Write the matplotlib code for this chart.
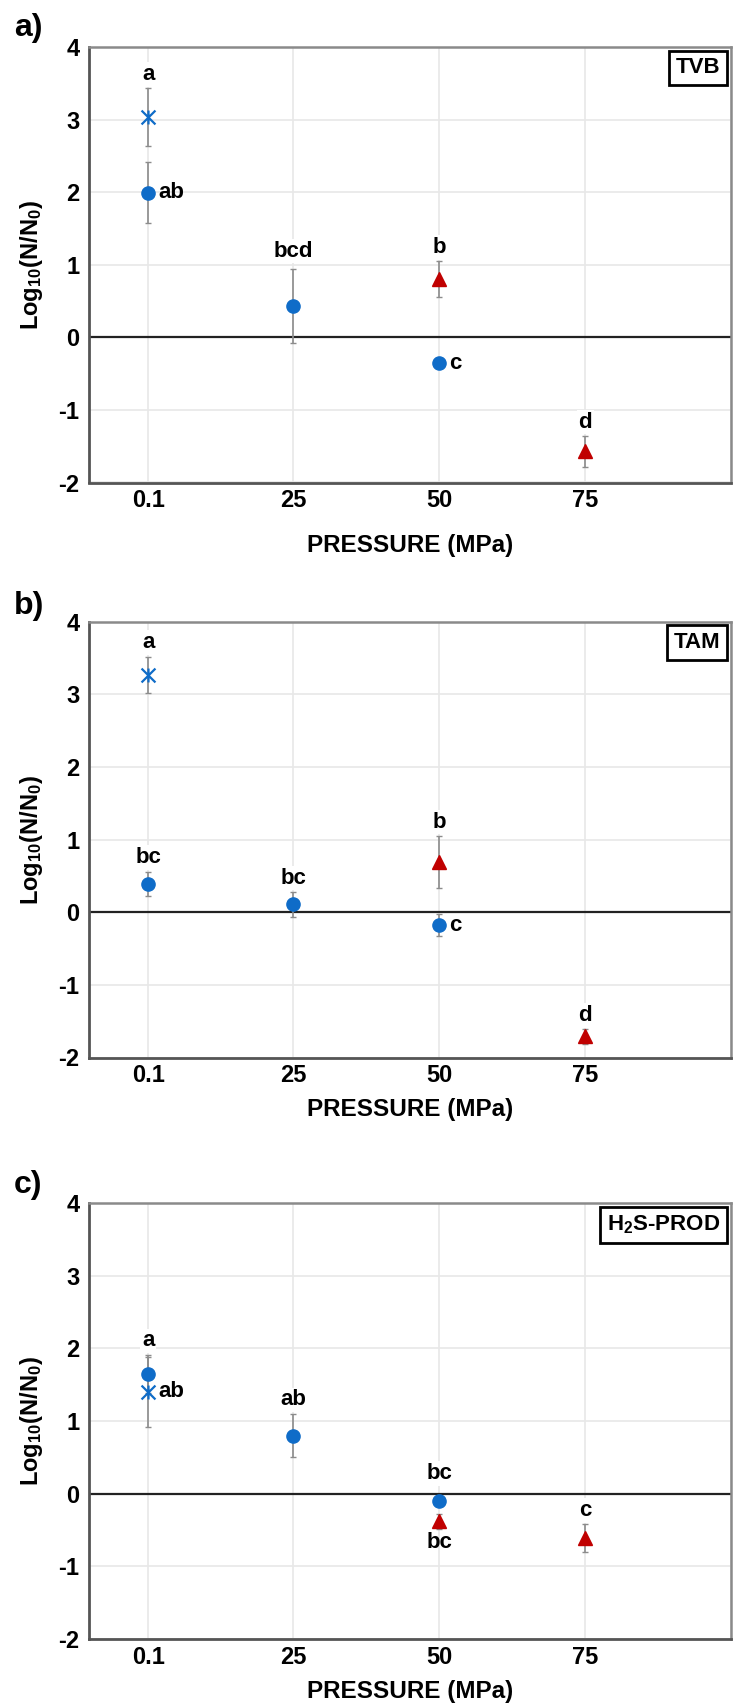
import matplotlib
matplotlib.use("Agg")
import matplotlib.pyplot as plt
from matplotlib import font_manager
from matplotlib.path import Path

plt.rcParams['font.family'] = ['Liberation Sans', 'DejaVu Sans']
plt.rcParams['font.weight'] = 'bold'
plt.rcParams['axes.unicode_minus'] = False
plt.rcParams['mathtext.fontset'] = 'custom'
plt.rcParams['mathtext.rm'] = 'Liberation Sans:bold'
plt.rcParams['mathtext.bf'] = 'Liberation Sans:bold'
plt.rcParams['mathtext.default'] = 'rm'

names = {f.name for f in font_manager.fontManager.ttflist}
if 'Liberation Sans Narrow' in names:
    xlab_font, xlab_size = 'Liberation Sans Narrow', 21
else:
    xlab_font, xlab_size = 'Liberation Sans', 17.5

# pressure levels (MPa)
pressure = [0.1, 25, 50, 75]
tick_labels = ['0.1', '25', '50', '75']

# a) TVB
tvb_star_x = [0.1]
tvb_star_y = [3.03]
tvb_star_err = [0.40]
tvb_circ_x = [0.1, 25, 50]
tvb_circ_y = [1.99, 0.43, -0.36]
tvb_circ_err = [0.42, 0.51, 0.03]
tvb_tri_x = [50, 75]
tvb_tri_y = [0.80, -1.57]
tvb_tri_err = [0.25, 0.21]
tvb_letters = [['a'], ['ab', 'bcd', 'c'], ['b', 'd']]
tvb_where = [['above'], ['right', 'high', 'right'], ['above', 'above']]

# b) TAM
tam_star_x = [0.1]
tam_star_y = [3.27]
tam_star_err = [0.25]
tam_circ_x = [0.1, 25, 50]
tam_circ_y = [0.39, 0.11, -0.18]
tam_circ_err = [0.17, 0.17, 0.15]
tam_tri_x = [50, 75]
tam_tri_y = [0.69, -1.71]
tam_tri_err = [0.36, 0.10]
tam_letters = [['a'], ['bc', 'bc', 'c'], ['b', 'd']]
tam_where = [['above'], ['above', 'above', 'right'], ['above', 'above']]

# c) H2S-PROD
h2s_star_x = [0.1]
h2s_star_y = [1.40]
h2s_star_err = [0.48]
h2s_circ_x = [0.1, 25, 50]
h2s_circ_y = [1.65, 0.80, -0.10]
h2s_circ_err = [0.26, 0.30, 0.05]
h2s_tri_x = [50, 75]
h2s_tri_y = [-0.38, -0.61]
h2s_tri_err = [0.10, 0.19]
h2s_letters = [['ab'], ['a', 'ab', 'bc'], ['bc', 'c']]
h2s_where = [['right'], ['above', 'above', 'higher'], ['below', 'above']]

blue = '#0f6cc8'
red = '#c00000'
grey = '#8c8c8c'

# where the letter goes: (offset x pt, offset y pt, which end of the bar)
place = {'above': (0, 10, 1), 'high': (0, 13, 1), 'higher': (0, 17, 1),
         'below': (0, -10, -1), 'right': (7, 0, 0)}

# excel style star marker: x with a vertical bar
star = Path([(-1, -1), (1, 1), (-1, 1), (1, -1), (0, -1), (0, 1)],
            [Path.MOVETO, Path.LINETO, Path.MOVETO, Path.LINETO, Path.MOVETO, Path.LINETO])

W, H = 735, 1707
fig = plt.figure(figsize=(W / 100, H / 100), dpi=100)


def panel(top, bottom, tag, tagy, box_text, series, letters, where, xlab_y):
    ax = fig.add_axes([89.3 / W, 1 - bottom / H, (731 - 89.3) / W, (bottom - top) / H])
    ax.set_xlim(-10, 100)
    ax.set_ylim(-2, 4)
    ax.set_xticks(pressure + [100])
    ax.set_xticklabels(tick_labels + [''])
    ax.set_yticks(range(-2, 5))
    ax.grid(True, color='#e8e8e8', lw=1.2, zorder=0)
    ax.set_axisbelow(True)
    ax.tick_params(length=0, labelsize=17)
    ax.tick_params(axis='x', pad=5)
    ax.tick_params(axis='y', pad=7)
    for t in ax.get_xticklabels() + ax.get_yticklabels():
        t.set_fontweight('bold')
    for s in ['top', 'right']:
        ax.spines[s].set_color('#8a8a8a')
        ax.spines[s].set_linewidth(1.8)
    for s in ['left', 'bottom']:
        ax.spines[s].set_color('#555555')
        ax.spines[s].set_linewidth(2)
    ax.axhline(0, color='#222222', lw=1.6, zorder=1)

    ax.set_xlabel('PRESSURE (MPa)', fontsize=xlab_size, fontweight='bold',
                  family=[xlab_font, 'DejaVu Sans'])
    ax.set_ylabel('Log$_{10}$(N/N$_0$)', fontsize=17, fontweight='bold')
    ax.xaxis.set_label_coords(0.5, xlab_y)
    ax.xaxis.label.set_va('center')
    ax.yaxis.set_label_coords(-0.09, 0.5)
    ax.yaxis.label.set_va('center')

    for (xs, ys, es, kind), labs, wh in zip(series, letters, where):
        if kind == 'star':
            kw = dict(marker=star, ms=10, mec=blue, mfc='none', mew=1.6)
        elif kind == 'circle':
            kw = dict(marker='o', ms=9.5, mec=blue, mfc=blue)
        else:
            kw = dict(marker='^', ms=10, mec=red, mfc=red)
        ax.errorbar(xs, ys, yerr=es, fmt='none', ecolor=grey, elinewidth=1.2,
                    capsize=2, capthick=1, zorder=2)
        ax.plot(xs, ys, ls='none', zorder=3, **kw)
        for x, y, e, lab, w in zip(xs, ys, es, labs, wh):
            dx, dy, side = place[w]
            ax.annotate(lab, (x, y + side * e), xytext=(dx, dy), textcoords='offset points',
                        ha='left' if w == 'right' else 'center', va='center',
                        fontsize=16, fontweight='bold', zorder=4,
                        bbox=dict(boxstyle='square,pad=0.08', fc='white', ec='none')
                        if side == 1 else None)

    ax.text(0.983, 0.976, box_text, transform=ax.transAxes, ha='right', va='top',
            fontsize=16, fontweight='bold', zorder=5,
            bbox=dict(boxstyle='square,pad=0.3', fc='white', ec='black', lw=2))
    fig.text(14 / W, 1 - tagy / H, tag, fontsize=23, fontweight='bold', va='center')
    return ax


panel(47, 482.5, 'a)', 28, 'TVB',
      [(tvb_star_x, tvb_star_y, tvb_star_err, 'star'),
       (tvb_circ_x, tvb_circ_y, tvb_circ_err, 'circle'),
       (tvb_tri_x, tvb_tri_y, tvb_tri_err, 'tri')],
      tvb_letters, tvb_where, -0.145)

panel(621.7, 1057.5, 'b)', 606, 'TAM',
      [(tam_star_x, tam_star_y, tam_star_err, 'star'),
       (tam_circ_x, tam_circ_y, tam_circ_err, 'circle'),
       (tam_tri_x, tam_tri_y, tam_tri_err, 'tri')],
      tam_letters, tam_where, -0.12)

panel(1203, 1639, 'c)', 1185, 'H$_2$S-PROD',
      [(h2s_star_x, h2s_star_y, h2s_star_err, 'star'),
       (h2s_circ_x, h2s_circ_y, h2s_circ_err, 'circle'),
       (h2s_tri_x, h2s_tri_y, h2s_tri_err, 'tri')],
      h2s_letters, h2s_where, -0.12)

fig.savefig('out.png', dpi=100)
